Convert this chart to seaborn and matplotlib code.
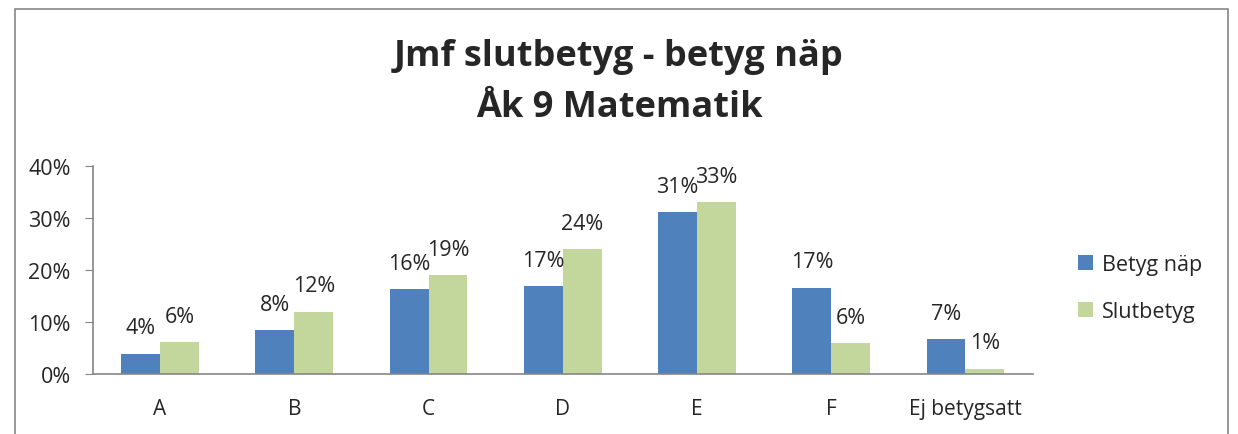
import matplotlib
matplotlib.use("Agg")
import matplotlib.pyplot as plt
import pandas as pd
import seaborn as sns
from matplotlib.patches import Rectangle, Patch

categories = ["A", "B", "C", "D", "E", "F", "Ej betygsatt"]
betyg_nap = [3.9, 8.4, 16.3, 16.9, 31.2, 16.6, 6.7]
slutbetyg = [6.1, 12.0, 19.0, 24.0, 33.0, 6.0, 1.0]
series = ["Betyg näp", "Slutbetyg"]
colors = ["#4F81BD", "#C3D69B"]

df = pd.DataFrame({
    "kategori": categories * 2,
    "serie": [series[0]] * len(categories) + [series[1]] * len(categories),
    "andel": [v / 100 for v in betyg_nap + slutbetyg],
})

sns.set_style("white")
plt.rcParams["font.family"] = ["Open Sans", "DejaVu Sans"]

fig = plt.figure(figsize=(12.38, 4.35), dpi=100)
ax = fig.add_axes([0.0751, 0.138, 0.759, 0.478])

sns.barplot(data=df, x="kategori", y="andel", hue="serie", palette=colors,
            width=0.58, saturation=1, linewidth=0, ax=ax, legend=False)

for cont in ax.containers:
    for bar in cont:
        h = bar.get_height()
        ax.annotate("{:.0f}%".format(h * 100),
                    (bar.get_x() + bar.get_width() / 2, h),
                    xytext=(0, 11), textcoords="offset points",
                    ha="center", va="bottom", fontsize=15.5)

ax.set_xlim(-0.5, len(categories) - 0.5)
ax.set_ylim(0, 0.4)
ax.set_yticks([0, 0.1, 0.2, 0.3, 0.4])
ax.set_yticklabels(["0%", "10%", "20%", "30%", "40%"], fontsize=15.5)
ax.set_xticks(range(len(categories)))
ax.set_xticklabels(categories, fontsize=15)
ax.set_xticks([i - 0.5 for i in range(len(categories) + 1)], minor=True)
ax.tick_params(axis="x", which="major", length=0, pad=17)
ax.tick_params(axis="x", which="minor", length=6, color="#868686", direction="out")
ax.tick_params(axis="y", length=6, color="#868686", direction="out", left=True, pad=10)
ax.set_xlabel("")
ax.set_ylabel("")
for s in ["top", "right"]:
    ax.spines[s].set_visible(False)
for s in ["left", "bottom"]:
    ax.spines[s].set_color("#868686")
    ax.spines[s].set_linewidth(1.2)

handles = [Patch(facecolor=c, edgecolor="none") for c in colors]
fig.legend(handles, series, loc="center left", bbox_to_anchor=(0.855, 0.335),
           frameon=False, fontsize=15.5, handlelength=0.7, handleheight=0.7,
           handletextpad=0.4, labelspacing=1.2)

fig.text(0.5, 0.869, "Jmf slutbetyg - betyg näp", ha="center", va="center",
         fontsize=26, fontweight="bold")
fig.text(0.5, 0.752, "Åk 9 Matematik", ha="center", va="center",
         fontsize=26, fontweight="bold")

fig.patches.append(Rectangle((0.012, -0.1), 0.98, 1.077, transform=fig.transFigure,
                             fill=False, edgecolor="#868686", linewidth=1.2))

fig.savefig("out.png", dpi=100)
